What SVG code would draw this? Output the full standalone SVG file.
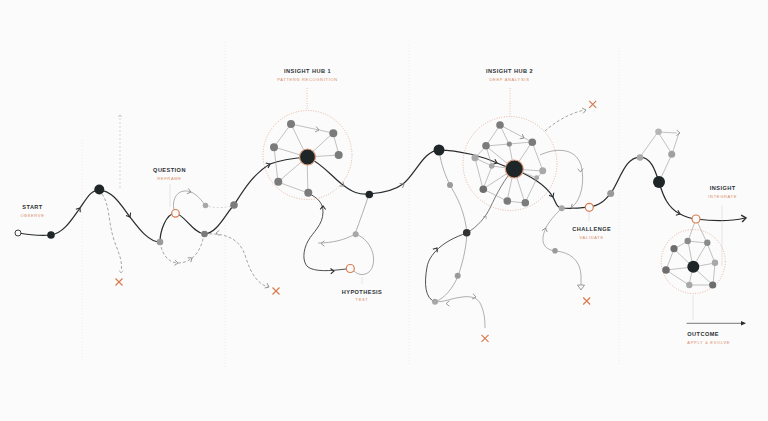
<svg xmlns="http://www.w3.org/2000/svg" xmlns:xlink="http://www.w3.org/1999/xlink" width="768" height="421" viewBox="0 0 768 421">
<style>
.bg{fill:#fbfbfb}
.grid{stroke:#e4e4e4;stroke-width:0.6;stroke-dasharray:1 2;fill:none}
.main{stroke:#2a2d2f;stroke-width:1.25;fill:none;stroke-linecap:round}
.dk{stroke:#3a3d3f;stroke-width:0.9;fill:none}
.gr{stroke:#959595;stroke-width:0.75;fill:none}
.edge{stroke:#a0a0a0;stroke-width:0.65;fill:none}
.dash{stroke:#8a8a8a;stroke-width:0.75;fill:none;stroke-dasharray:3 2}
.ldash{stroke:#c4c4c4;stroke-width:0.7;fill:none;stroke-dasharray:2 2}
.tick{stroke:#cfcfcf;stroke-width:0.5;fill:none}
.otick{stroke:#dd9f80;stroke-width:0.6;fill:none;stroke-dasharray:1 1.5}
.ring{stroke:#dc9a7a;stroke-width:0.7;fill:none;stroke-dasharray:1 1.5}
.chd{stroke:#2a2d2f;stroke-width:1.1;fill:none}
.chg{stroke:#858585;stroke-width:0.8;fill:none}
.x{stroke:#d77b4f;stroke-width:1.2}
.n-dark{fill:#1f2628}
.n-mid{fill:#7b7b7b}
.n-lt{fill:#a8a8a8}
.n-open{fill:#fbfbfb;stroke:#d77b4f;stroke-width:1.2}
.hubring{fill:#1f2628;stroke:#e0a080;stroke-width:1.2}
.t{font-family:"Liberation Sans",Arial,sans-serif;font-weight:700;font-size:5.6px;letter-spacing:0.45px;fill:#2b2f33}
.s{font-family:"Liberation Sans",Arial,sans-serif;font-size:4px;letter-spacing:0.7px;fill:#d98a64}
</style>
<defs>
<path id="chev" d="M-3.4,-2.7 L0,0 L-3.4,2.7"/>
</defs>
<rect class="bg" x="0" y="0" width="768" height="421"/>
<g id="background-grid">
<line class="grid" x1="82" y1="140" x2="82" y2="362"/>
<line class="grid" x1="225" y1="42" x2="225" y2="368"/>
<line class="grid" x1="409" y1="45" x2="409" y2="365"/>
<line class="grid" x1="619" y1="48" x2="619" y2="366"/>
</g>

<g id="connectors">
<!-- main journey -->
<path class="main" d="M18,233 C30,235 40,236 51,235 C64,233 72,219 80,208 C87,198 91,190 99,190 C112,190 121,205 130,217 C140,230 149,242 160,242 C160,231 166,214 175,213 C184,214 193,233 204,234 C217,234 226,213 234,205 C243,191 253,174 270,164 C283,159 295,158 307,157"/>
<path class="main" d="M307,157 C322,163 333,178 343,185 C352,192 359,195 369,194 C384,193 395,190 403,184 C415,175 424,150 439,150 C460,150 484,157 497,163 C504,166 509,168 514,169"/>
<path class="main" d="M514,169 C530,176 545,184 553,197 C556,203 557,208 562,208 C572,209 580,208 589,207 C600,206 605,200 611,193 C620,180 625,157 640,157 C651,157 655,170 659,182 C663,196 668,208 680,214 C686,217 690,218.5 696,219 C712,221 728,222 745,218"/>
<use href="#chev" class="chd" transform="translate(80,208) rotate(-55)"/>
<use href="#chev" class="chd" transform="translate(130,217) rotate(60)"/>
<use href="#chev" class="chd" transform="translate(270,164) rotate(-25)"/>
<use href="#chev" class="chg" transform="translate(344,186) rotate(38)"/>
<use href="#chev" class="chg" transform="translate(404,184) rotate(-32)"/>
<use href="#chev" class="chd" transform="translate(497,163) rotate(22)"/>
<use href="#chev" class="chd" transform="translate(553,197) rotate(62)"/>
<use href="#chev" class="chd" transform="translate(680,214) rotate(22)"/>
<use href="#chev" class="chd" transform="translate(746,218) rotate(-8) scale(1.3)"/>

<!-- start / question branches -->
<path class="dash" d="M102,194 C110,205 108,222 114,240 C119,254 123,262 121,271"/>
<use href="#chev" class="chg" transform="translate(121,273) rotate(95) scale(0.7)"/>
<path class="ldash" d="M120,188 L120,116"/>
<use href="#chev" class="chg" transform="translate(120,115) rotate(-90) scale(0.6)"/>
<path class="gr" d="M175,213 C171,203 175,192 184,191 C193,190 200,198 205,205"/>
<use href="#chev" class="chg" transform="translate(191,192) rotate(15)"/>
<path class="ldash" d="M205,205 C215,209 225,208 234,205"/>
<path class="dash" d="M160,242 C162,255 169,263 178,263 C190,263 201,254 204,234"/>
<use href="#chev" class="chg" transform="translate(178,263) rotate(5)"/>
<use href="#chev" class="chg" transform="translate(192,258) rotate(-35)"/>
<path class="dash" d="M204,234 C224,233 240,237 246,258 C251,274 258,284 268,287"/>
<use href="#chev" class="chg" transform="translate(216,233) rotate(180)"/>
<use href="#chev" class="chg" transform="translate(269,287) rotate(25)"/>
<path class="tick" d="M170,184 L170,207"/>

<!-- hub 1 internal -->
<path class="edge" d="M291,124 L333,133 M291,124 L274,147 M291,124 L307,157 M333,133 L339,155 M333,133 L307,157 M274,147 L307,157 M339,155 L307,157 M274,147 L278,182 M278,182 L307,157 M278,182 L308,193 M307,157 L308,193"/>
<use href="#chev" class="chg" transform="translate(319,130) rotate(12)"/>
<path class="otick" d="M307,88 L307,110"/>

<!-- hypothesis loop -->
<path class="dk" d="M308,193 C318,198 323,203 323,212 C323,225 313,232 308,241 C303,250 302,262 308,267 C315,272 330,271 346,269"/>
<use href="#chev" class="chd" transform="translate(323,206) rotate(-88)"/>
<use href="#chev" class="chd" transform="translate(334,271) rotate(-3)"/>
<path class="gr" d="M369,194 C365,207 360,220 355,234"/>
<path class="gr" d="M355,234 C345,240 332,243 318,243"/>
<use href="#chev" class="chg" transform="translate(321,243.5) rotate(180)"/>
<path class="gr" d="M355,234 C374,240 378,264 369,272 C364,276 358,275 354,271"/>
<path class="tick" d="M362,277 L362,284"/>

<!-- hub 2 left loop -->
<path class="gr" d="M439,150 C441,165 446,177 450,185 C456,196 464,208 467,233 C466,250 462,265 458,276 C453,288 445,298 435,302"/>
<path class="dk" d="M435,302 C425,298 424,284 427,267 C429,255 442,241 467,233"/>
<use href="#chev" class="chd" transform="translate(437,248) rotate(-55)"/>
<path class="dk" d="M467,233 C478,226 485,218 490,208 C497,193 505,178 514,169" style="stroke:#555;stroke-width:0.8"/>
<use href="#chev" class="chg" transform="translate(486,216) rotate(-55) scale(0.7)"/>
<path class="gr" d="M435,302 C445,302 452,298 462,297 C470,296 478,297 481,305 C484,312 485,318 485,328"/>
<use href="#chev" class="chg" transform="translate(446,303.5) rotate(180)"/>
<use href="#chev" class="chg" transform="translate(476,297) rotate(10)"/>

<!-- hub 2 internal -->
<path class="edge" d="M500,125 L486,146 M500,125 L532,142 M500,125 L509,144 M486,146 L509,144 M509,144 L532,142 M486,146 L475,158 M486,146 L492,166 M486,146 L514,169 M509,144 L514,169 M532,142 L514,169 M532,142 L543,171 M475,158 L492,166 M475,158 L483,189 M492,166 L514,169 M543,171 L514,169 M543,171 L537,178 M537,178 L525,203 M514,169 L483,189 M514,169 L507,201 M514,169 L525,203 M483,189 L507,201 M507,201 L525,203 M492,166 L483,189 M537,178 L514,169"/>
<use href="#chev" class="chg" transform="translate(524,138) rotate(28)"/>
<path class="otick" d="M510,88 L510,116"/>
<path class="dash" d="M545,131 C555,122 568,114 584,110"/>
<use href="#chev" class="chg" transform="translate(586,110) rotate(-12)"/>
<path class="gr" d="M540,155 C555,148 575,147 581,165 C585,180 582,200 571,208"/>
<use href="#chev" class="chg" transform="translate(580.5,172) rotate(88)"/>
<use href="#chev" class="chg" transform="translate(571,208) rotate(145)"/>

<!-- challenge branch -->
<path class="gr" d="M562,208 C555,215 548,222 545,230 C541,240 542,249 555,251 C570,252 580,260 581,275 L581,289"/>
<use href="#chev" class="chg" transform="translate(545.5,228) rotate(-75)"/>
<path class="chg" d="M577.5,285 L581,290 L584.5,285 Z" style="fill:#fbfbfb"/>
<path class="tick" d="M589,212 L589,221"/>

<!-- right cluster -->
<path class="edge" d="M640,157 L658,132 M658,132 L677,133 M658,132 L672,154 M679,133 L672,154 M672,154 L659,182"/>
<use href="#chev" class="chg" transform="translate(680,133) rotate(3)"/>
<path class="tick" d="M722,205 L722,266"/>

<!-- outcome -->
<path class="edge" d="M696,219 L688,241 M696,219 L707,243 M674,249 L688,241 M688,241 L707,243 M674,249 L666,270 M674,249 L693,267 M688,241 L693,267 M707,243 L715,263 M707,243 L693,267 M715,263 L693,267 M715,263 L713,285 M666,270 L693,267 M666,270 L689,285 M689,285 L713,285 M693,267 L689,285 M693,267 L713,285"/>
<path class="tick" d="M693,295 L693,320"/>
<path class="main" style="stroke-width:0.8;stroke:#555" d="M687,323.3 L744,323.3"/>
<path d="M741,321 L746,323.3 L741,325.6 Z" fill="#2a2d2f"/>
</g>

<!-- rejection marks -->
<g id="x-marks">
<path class="x" d="M115.5,278.5 L122.5,285.5 M122.5,278.5 L115.5,285.5"/>
<path class="x" d="M272.5,287.5 L279.5,294.5 M279.5,287.5 L272.5,294.5"/>
<path class="x" d="M589.2,100.8 L596.2,107.8 M596.2,100.8 L589.2,107.8"/>
<path class="x" d="M481.5,334.8 L488.5,341.8 M488.5,334.8 L481.5,341.8"/>
<path class="x" d="M583.2,297.5 L590.2,304.5 M590.2,297.5 L583.2,304.5"/>
</g>

<g id="node-start">
<circle cx="18" cy="233" r="3" fill="#fbfbfb" stroke="#2a2d2f" stroke-width="0.9"/>
<circle class="n-dark" cx="51" cy="235" r="3.8"/>
<text class="t" x="32.5" y="209" text-anchor="middle">START</text>
<text class="s" x="32.5" y="216.8" text-anchor="middle">OBSERVE</text>
</g>

<g id="node-peak1">
<circle class="n-dark" cx="99.3" cy="189.5" r="5"/>
</g>

<g id="node-question">
<circle class="n-mid" cx="160" cy="242" r="3.3" style="fill:#9a9a9a"/>
<circle class="n-open" cx="175.5" cy="213.3" r="3.8"/>
<circle class="n-lt" cx="205.5" cy="205.5" r="2.8"/>
<circle class="n-mid" cx="204.5" cy="234" r="3.3"/>
<circle class="n-mid" cx="234" cy="205" r="3.8"/>
<text class="t" x="169.5" y="172" text-anchor="middle">QUESTION</text>
<text class="s" x="169.5" y="180" text-anchor="middle">REFRAME</text>
</g>

<g id="node-hub1">
<circle class="ring" cx="307.5" cy="155" r="44.5"/>
<circle class="n-mid" cx="291" cy="124" r="4"/>
<circle class="n-mid" cx="333.3" cy="133.3" r="4"/>
<circle class="n-mid" cx="274" cy="147.3" r="4"/>
<circle class="n-mid" cx="338.7" cy="155" r="4"/>
<circle class="n-mid" cx="278.3" cy="181.7" r="4"/>
<circle class="n-mid" cx="308.3" cy="192.7" r="4"/>
<circle class="hubring" cx="307.5" cy="157" r="8"/>
<text class="t" x="307.5" y="72.5" text-anchor="middle">INSIGHT HUB 1</text>
<text class="s" x="307.5" y="80.8" text-anchor="middle">PATTERN RECOGNITION</text>
</g>

<g id="node-hypothesis">
<circle class="n-dark" cx="369.3" cy="194.5" r="3.8"/>
<circle class="n-lt" cx="355.7" cy="234.3" r="3"/>
<circle class="n-open" cx="350.3" cy="268.5" r="4"/>
<text class="t" x="362" y="293.5" text-anchor="middle">HYPOTHESIS</text>
<text class="s" x="362" y="301.3" text-anchor="middle">TEST</text>
</g>

<g id="node-descent">
<circle class="n-dark" cx="439" cy="150" r="5.5"/>
<circle class="n-lt" cx="450" cy="185" r="3" style="fill:#9a9a9a"/>
<circle class="n-dark" cx="466.7" cy="232.7" r="3.8" style="fill:#333"/>
<circle class="n-lt" cx="457.7" cy="275.7" r="3" style="fill:#9a9a9a"/>
<circle class="n-lt" cx="435" cy="301.7" r="3"/>
</g>

<g id="node-hub2">
<circle class="ring" cx="510" cy="163.5" r="47"/>
<circle class="n-mid" cx="500" cy="125" r="3.8"/>
<circle class="n-mid" cx="486" cy="145.7" r="3.8"/>
<circle class="n-mid" cx="509.3" cy="144" r="2.6" style="fill:#8c8c8c"/>
<circle class="n-mid" cx="532.3" cy="142.3" r="3.8"/>
<circle class="n-lt" cx="475" cy="157.7" r="3.5"/>
<circle class="n-lt" cx="491.7" cy="166" r="2.8"/>
<circle class="n-lt" cx="542.7" cy="170.7" r="3.5"/>
<circle class="n-lt" cx="536.7" cy="177.7" r="2.4"/>
<circle class="n-mid" cx="483.3" cy="189.3" r="3.8" style="fill:#6e6e6e"/>
<circle class="n-mid" cx="507.3" cy="201" r="3.8"/>
<circle class="n-mid" cx="525.3" cy="202.7" r="3.8"/>
<circle class="hubring" cx="514.3" cy="169" r="9"/>
<text class="t" x="509.5" y="72.5" text-anchor="middle">INSIGHT HUB 2</text>
<text class="s" x="509.5" y="80.8" text-anchor="middle">DEEP ANALYSIS</text>
</g>

<g id="node-challenge">
<circle class="n-lt" cx="561.7" cy="208.3" r="3"/>
<circle class="n-lt" cx="555" cy="250.7" r="2.8" style="fill:#9a9a9a"/>
<circle class="n-open" cx="589.3" cy="207.3" r="4"/>
<circle class="n-lt" cx="610.7" cy="193.5" r="3.5" style="fill:#9a9a9a"/>
<text class="t" x="591.7" y="231" text-anchor="middle">CHALLENGE</text>
<text class="s" x="591.7" y="239.3" text-anchor="middle">VALIDATE</text>
</g>

<g id="node-ascent">
<circle class="n-lt" cx="640" cy="157.5" r="3.3"/>
<circle class="n-lt" cx="658.5" cy="131.7" r="3.3" style="fill:#b5b5b5"/>
<circle class="n-lt" cx="671.7" cy="154.3" r="3.5" style="fill:#a0a0a0"/>
<circle class="n-dark" cx="659" cy="182" r="6"/>
</g>

<g id="node-insight">
<circle class="n-open" cx="696" cy="219" r="4"/>
<text class="t" x="722.7" y="190" text-anchor="middle">INSIGHT</text>
<text class="s" x="722.7" y="198" text-anchor="middle">INTEGRATE</text>
</g>

<g id="node-outcome">
<circle class="ring" cx="693.3" cy="261.5" r="32"/>
<circle class="n-mid" cx="674" cy="248.7" r="3.6" style="fill:#6e6e6e"/>
<circle class="n-mid" cx="687.7" cy="241" r="3.2" style="fill:#8a8a8a"/>
<circle class="n-mid" cx="707.3" cy="242.7" r="3.2" style="fill:#8a8a8a"/>
<circle class="n-lt" cx="715" cy="262.7" r="3.2"/>
<circle class="n-mid" cx="666" cy="270" r="3.8" style="fill:#6e6e6e"/>
<circle class="n-lt" cx="689.3" cy="285" r="3.2"/>
<circle class="n-mid" cx="712.7" cy="285" r="3.6" style="fill:#6e6e6e"/>
<circle class="n-dark" cx="693.3" cy="266.7" r="6"/>
<text class="t" x="687.3" y="335.5">OUTCOME</text>
<text class="s" x="687.3" y="343.5">APPLY &amp; EVOLVE</text>
</g>
</svg>
